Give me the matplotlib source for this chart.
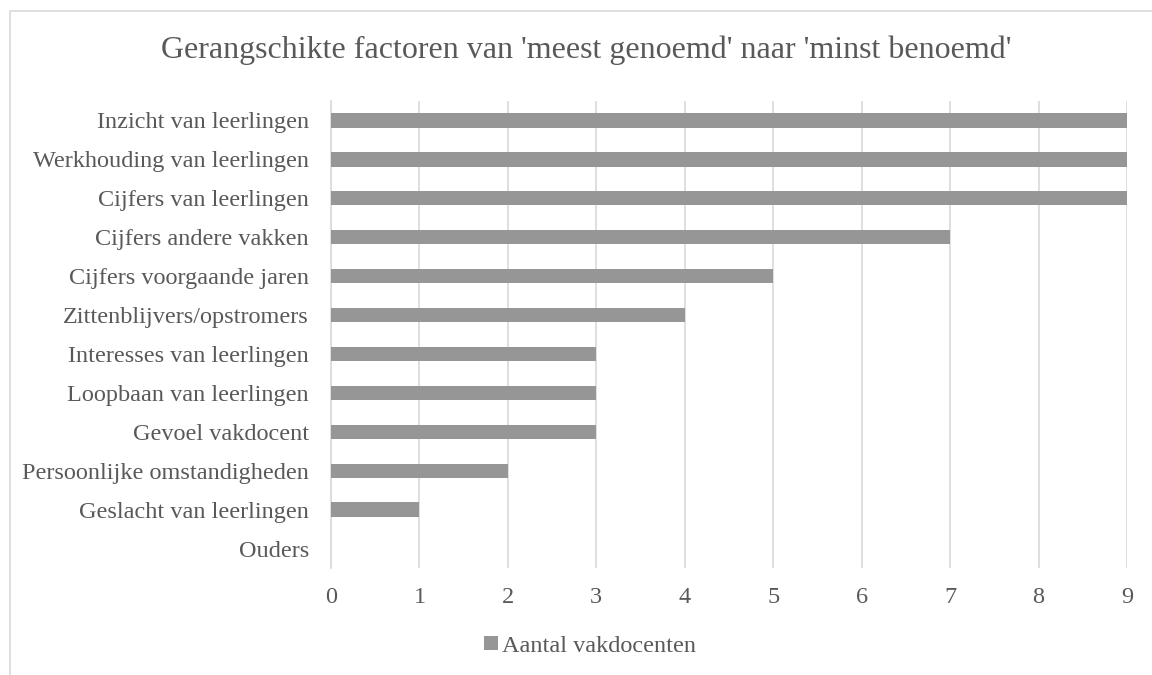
import matplotlib
matplotlib.use("Agg")
import matplotlib.pyplot as plt
from matplotlib.patches import Rectangle

categories = ["Inzicht van leerlingen", "Werkhouding van leerlingen", "Cijfers van leerlingen",
              "Cijfers andere vakken", "Cijfers voorgaande jaren", "Zittenblijvers/opstromers",
              "Interesses van leerlingen", "Loopbaan van leerlingen", "Gevoel vakdocent",
              "Persoonlijke omstandigheden", "Geslacht van leerlingen", "Ouders"]
values = [9, 9, 9, 7, 5, 4, 3, 3, 3, 2, 1, 0]
series_name = "Aantal vakdocenten"
title = "Gerangschikte factoren van 'meest genoemd' naar 'minst benoemd'"
xticks = list(range(0, 10))

plt.rcParams['font.family'] = ['Liberation Serif', 'DejaVu Serif']
txt = "#595959"
W, H = 1152, 675
fig = plt.figure(figsize=(W/100, H/100), dpi=100)
fig.patches.append(Rectangle((10/W, -0.1), 1.2, 1 - 11/H + 0.1, transform=fig.transFigure,
                             fill=False, edgecolor="#d9d9d9", linewidth=1.2))

ax = fig.add_axes([331/W, 1 - 568/H, (1127 - 331)/W, (568 - 101)/H])
y = list(range(len(categories)))
ax.barh(y, values, height=0.37, color="#969696", label=series_name, zorder=3)
ax.set_ylim(len(categories) - 0.5, -0.5)
ax.set_xlim(0, 9)
ax.set_xticks(xticks)
ax.set_yticks(y)
ax.set_yticklabels(categories)
ax.tick_params(axis='both', length=0, colors=txt, labelsize=17.5)
ax.tick_params(axis='x', pad=14)
ax.tick_params(axis='y', pad=16)
ax.grid(axis='x', color="#d9d9d9", linewidth=1.2, zorder=0)
for s in ["top", "right", "bottom"]:
    ax.spines[s].set_visible(False)
ax.spines["left"].set_color("#d9d9d9")
ax.spines["left"].set_linewidth(1.2)

fig.text(586/W, 1 - 50/H, title, ha='center', va='center', fontsize=23, color=txt)
leg = fig.legend(loc='center', bbox_to_anchor=(590/W, 1 - 646/H), frameon=False,
                 fontsize=17.5, handlelength=0.55, handleheight=0.55, handletextpad=0.15)
for t in leg.get_texts():
    t.set_color(txt)

fig.savefig("out.png", dpi=100)
